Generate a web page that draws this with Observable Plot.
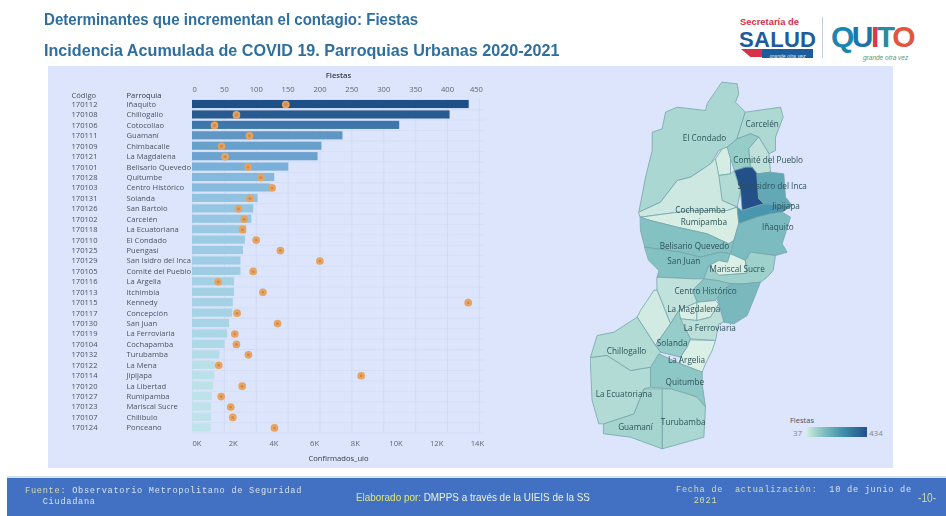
<!DOCTYPE html>
<html><head><meta charset="utf-8">
<script src="https://cdn.jsdelivr.net/npm/d3@7"></script>
<script src="https://cdn.jsdelivr.net/npm/@observablehq/plot@0.6"></script>
<style>
html,body{margin:0;padding:0;background:#fff;}
#page{position:relative;width:946px;height:516px;overflow:hidden;background:#fff;font-family:"Liberation Sans",sans-serif;}
.abs{position:absolute;white-space:nowrap;}
.abs svg{display:block;background:transparent;}
.title{color:#2f6f9f;font-weight:700;font-size:17px;line-height:20px;transform-origin:left top;filter:blur(0.3px);}
#panel{left:48px;top:66px;width:845px;height:402px;background:#dce5fc;}
#footer{left:7px;top:478px;width:939px;height:38px;background:#4271c4;}
#footline{left:7px;top:476px;width:939px;height:2px;background:#cfe3f3;}
.mono{font-family:"Liberation Mono",monospace;font-size:8.6px;letter-spacing:.74px;color:#d6e3ee;line-height:9.7px;white-space:pre;filter:blur(0.35px);}
.chart{filter:blur(0.35px);}
</style></head><body>
<div id="page">
<div class="abs title" style="left:44px;top:10px;transform:scaleX(.886)">Determinantes que incrementan el contagio: Fiestas</div>
<div class="abs title" style="left:44px;top:41px;transform:scaleX(.95)">Incidencia Acumulada de COVID 19. Parroquias Urbanas 2020-2021</div>

<div class="abs" style="left:740px;top:16.5px;font-size:9.4px;line-height:10px;font-weight:700;color:#d6304a">Secretaría de</div>
<div class="abs" style="left:739px;top:30.5px;font-size:22px;line-height:18px;font-weight:700;color:#1d5c9c;letter-spacing:.3px">SALUD</div>
<div class="abs" style="left:741px;top:49px;width:21px;height:8px;background:#d6304a;clip-path:polygon(0 0,100% 0,100% 100%,45% 100%)"></div>
<div class="abs" style="left:762px;top:49px;width:51px;height:9px;background:#1d5c9c"></div>
<div class="abs" style="left:762px;top:52.5px;width:51px;color:#dfe9f3;font-size:5.2px;font-style:italic;text-align:center;line-height:6px">grande otra vez</div>
<div class="abs" style="left:822px;top:17px;width:1px;height:41px;background:#c5ced6"></div>
<div class="abs" style="left:831px;top:22px;font-size:30px;font-weight:700;letter-spacing:-2.5px;line-height:29px"><span style="color:#1c86b0">Q</span><span style="color:#1d74ad">U</span><span style="color:#d9374a">I</span><span style="color:#2d8a9b">T</span><span style="color:#e2563f">O</span></div>
<div class="abs" style="left:863px;top:53.8px;font-size:6.5px;line-height:7px;font-style:italic;color:#5b9a6e">grande otra vez</div>

<div class="abs" id="panel"></div>
<div class="abs chart" id="bars" style="left:48px;top:66px"></div>
<div class="abs chart" id="dots" style="left:48px;top:66px"></div>
<div class="abs chart" id="map" style="left:590px;top:70px"></div>

<div class="abs" style="left:790px;top:415px;font:7.5px 'Open Sans';color:#41505e">Fiestas</div>
<div class="abs" style="left:793px;top:427px;font:8px 'Open Sans';color:#7b8794">37</div>
<div class="abs" id="ramp" style="left:805px;top:427px;width:62px;height:10px"></div>
<div class="abs" style="left:869px;top:427px;font:8px 'Open Sans';color:#7b8794">434</div>

<div class="abs" id="footline"></div>
<div class="abs" id="footer"></div>
<div class="abs mono" style="left:25px;top:487px"><span style="color:#d6dcb0">Fuente:</span> Observatorio Metropolitano de Seguridad</div>
<div class="abs mono" style="left:42.7px;top:497.5px">Ciudadana</div>
<div class="abs" style="left:356px;top:491px;font-size:11px;color:#e4e76a;transform:scaleX(.9);transform-origin:left top">Elaborado por: <span style="color:#eef2d8">DMPPS a través de la UIEIS de la SS</span></div>
<div class="abs mono" style="left:676px;top:486px;color:#d6dcb0">Fecha de  actualización:  <span style="color:#d6e3ee">10 de junio de</span></div>
<div class="abs mono" style="left:693.7px;top:497px;color:#d6dcb0">2021</div>
<div class="abs" style="left:918px;top:491px;font-size:12px;color:#cdd8a8;transform:scaleX(.85);transform-origin:left top">-10-</div>
</div>
<script>
// ---- bar chart data ----
const codigos = ["170112","170108","170106","170111","170109","170121","170101","170128","170103","170131","170126","170102","170118","170110","170125","170129","170105","170116","170113","170115","170117","170130","170119","170104","170132","170122","170114","170120","170127","170123","170107","170124"];
const parroquias = ["Iñaquito","Chillogallo","Cotocollao","Guamaní","Chimbacalle","La Magdalena","Belisario Quevedo","Quitumbe","Centro Histórico","Solanda","San Bartolo","Carcelén","La Ecuatoriana","El Condado","Puengasí","San Isidro del Inca","Comité del Pueblo","La Argelia","Itchimbía","Kennedy","Concepción","San Juan","La Ferroviaria","Cochapamba","Turubamba","La Mena","Jipijapa","La Libertad","Rumipamba","Mariscal Sucre","Chilibulo","Ponceano"];
const fiestas = [434,404,325,236,203,197,151,129,122,103,96,93,85,83,80,76,76,66,66,64,63,58,55,51,43,36,35,33,31,30,30,29];
const confirmados = [4585,2160,1080,2800,1425,1600,2730,3360,3910,2820,2260,2540,2460,3130,4320,6260,2980,1260,3460,13550,2190,4180,2080,2160,2750,1290,8290,2440,1410,1880,1980,4030];
const fiestasTicks = [0,50,100,150,200,250,300,350,400,450];
const confTicks = [0,2000,4000,6000,8000,10000,12000,14000];
const barColors = ["#bfe3ea","#a6d3e5","#8dc0e0","#74acd8","#5f96c2","#3d76a8","#1e4f85"];
const barStops = [29,60,110,160,236,325,434];

// ---- map data (traced outlines, in map units) ----
const mapNames = ["El Condado","Carcelén","Comité del Pueblo","Ponceano","Kennedy","Concepción","Cochapamba","Rumipamba","San Isidro del Inca","Kennedy Este","Jipijapa","Iñaquito","Belisario Quevedo","San Juan","Mariscal Sucre","Itchimbía","Puengasí","Centro Histórico","La Libertad","Chilibulo","La Magdalena","Chimbacalle","La Ferroviaria","Solanda","La Argelia","Quitumbe","Turubamba","Guamaní","La Ecuatoriana","Chillogallo"];
const mapValues = [97,92,120,72,45,88,55,42,434,215,262,165,150,150,40,112,172,140,70,50,40,42,76,122,40,132,97,102,86,86];
const mapRings = [
[[395,35],[440,40],[445,70],[435,95],[465,125],[440,205],[410,230],[385,240],[360,280],[300,320],[260,330],[210,395],[145,425],[165,320],[185,240],[185,185],[215,175],[225,125],[260,110],[345,120],[350,100]],
[[465,125],[570,110],[578,140],[555,200],[555,240],[535,250],[530,240],[505,200],[480,190],[440,205]],
[[410,230],[440,205],[480,190],[505,200],[475,235],[480,290],[465,290],[432,300],[420,265]],
[[505,200],[530,240],[535,250],[540,305],[500,310],[485,290],[480,290],[475,235]],
[[375,265],[395,235],[410,230],[420,265],[420,310],[385,315]],
[[385,315],[420,310],[432,300],[450,360],[440,410],[395,390]],
[[145,425],[210,395],[260,330],[300,320],[360,280],[375,265],[385,315],[395,390],[440,410],[410,420],[300,420],[150,440]],
[[150,440],[300,420],[410,420],[440,410],[445,460],[430,510],[415,520],[350,490],[260,470],[180,450]],
[[432,300],[465,290],[485,290],[500,310],[505,385],[520,400],[455,420],[450,360]],
[[500,310],[540,305],[580,310],[585,380],[605,405],[520,400],[505,385]],
[[455,420],[520,400],[605,405],[575,425],[540,430],[500,440],[445,460],[440,410]],
[[445,460],[500,440],[540,430],[575,425],[600,440],[575,520],[590,545],[555,555],[480,545],[465,570],[420,550],[430,510]],
[[150,440],[180,450],[260,470],[350,490],[415,520],[430,510],[420,550],[390,545],[330,560],[270,545],[163,530],[150,480]],
[[163,530],[270,545],[330,560],[390,545],[420,550],[410,575],[385,570],[355,585],[340,625],[310,625],[200,620],[205,600],[175,570]],
[[420,550],[465,570],[468,608],[385,615],[355,585],[385,570],[410,575]],
[[465,570],[480,545],[555,555],[548,600],[530,620],[510,635],[460,640],[420,640],[380,630],[340,625],[355,585],[385,615],[468,608]],
[[380,680],[420,640],[460,640],[510,635],[470,735],[430,760],[400,755],[385,700]],
[[310,655],[340,625],[380,630],[420,640],[380,680],[375,690],[320,695],[310,670]],
[[200,620],[310,625],[340,625],[310,655],[310,670],[320,695],[265,720],[240,760],[200,660]],
[[200,660],[240,760],[195,825],[140,740],[150,720],[190,660]],
[[265,720],[320,695],[320,750],[270,745]],
[[320,695],[375,690],[385,700],[360,740],[320,750]],
[[270,745],[320,750],[360,740],[385,700],[400,755],[385,760],[375,810],[300,805]],
[[240,760],[265,720],[270,745],[300,805],[290,830],[270,860],[210,845],[195,825]],
[[300,808],[375,810],[365,840],[345,880],[335,905],[270,880],[270,860],[290,830]],
[[205,850],[270,880],[335,905],[335,940],[345,1010],[320,980],[290,970],[240,955],[180,950],[180,890]],
[[215,955],[240,955],[290,970],[320,980],[345,1010],[340,1100],[215,1135],[215,1040]],
[[40,1060],[130,1030],[160,955],[215,955],[215,1135],[120,1100],[40,1090]],
[[0,860],[50,855],[120,900],[180,890],[180,950],[160,955],[130,1030],[40,1060],[25,1060],[5,990]],
[[0,860],[20,795],[70,785],[140,740],[195,825],[210,845],[205,850],[180,890],[120,900],[50,855]]
];
const mapLabelNames = ["El Condado","Carcelén","Comité del Pueblo","San Isidro del Inca","Jipijapa","Iñaquito","Cochapamba","Rumipamba","Belisario Quevedo","San Juan","Mariscal Sucre","Centro Histórico","La Magdalena","La Ferroviaria","Solanda","La Argelia","Quitumbe","La Ecuatoriana","Chillogallo","Guamaní","Turubamba"];
const mapLabelX = [342,515,533,545,587,562,330,340,312,280,440,345,310,358,245,288,283,100,108,135,278];
const mapLabelY = [205,163,270,347,408,470,420,457,528,573,597,663,717,775,820,870,935,972,843,1072,1056];
const rampDomain = [37,130,280,434];
const rampRange = ["#dcf0e6","#8fc9c6","#3f8fab","#24508a"];

// ---- scaffolding shared by the two overlaid bar plots ----
const W = 440, H = 402, ML = 144, MR = 4, MT = 32.8, MB = 35.4;
const rows = parroquias.map((p,i)=>({p, c:codigos[i], f:fiestas[i], k:confirmados[i]}));
const font = "'Open Sans'";
const yOpt = {domain:parroquias, paddingInner:0.22, paddingOuter:0.11, align:0.5, round:false};
const ink = "#4a5560", ink2 = "#333d47", ink3 = "#5d6975";

const barPlot = Plot.plot({
  width:W, height:H, marginLeft:ML, marginRight:MR, marginTop:MT, marginBottom:MB,
  style:{background:"transparent", fontFamily:font, fontSize:"7.6px", color:ink},
  x:{domain:[0,458], axis:null},
  y:{...yOpt, axis:null},
  color:{type:"linear", domain:barStops, range:barColors},
  marks:[
    Plot.ruleX(fiestasTicks,{stroke:"#cbd6f2", strokeWidth:0.7}),
    Plot.tickY(parroquias,{y:d=>d, stroke:"#cfdaf4", strokeWidth:0.6, dy:5.2}),
    Plot.text(rows,{y:"p", text:"c", frameAnchor:"left", textAnchor:"start", dx:-121, fill:ink}),
    Plot.text(rows,{y:"p", text:"p", frameAnchor:"left", textAnchor:"start", dx:-66, fill:ink}),
    Plot.barX(rows,{x:"f", y:"p", fill:"f"}),
    Plot.text(["Código"],{text:d=>d, frameAnchor:"top-left", textAnchor:"start", dx:-121, dy:-7, fill:ink}),
    Plot.text(["Parroquia"],{text:d=>d, frameAnchor:"top-left", textAnchor:"start", dx:-66, dy:-7, fill:ink2}),
    Plot.text(["Fiestas"],{text:d=>d, frameAnchor:"top", dy:-27, fill:ink2, fontWeight:600}),
    Plot.text(fiestasTicks.slice(0,1),{x:d=>d, text:d=>d, frameAnchor:"top", dy:-13, fill:ink3, textAnchor:"start"}),
    Plot.text(fiestasTicks.slice(1,-1),{x:d=>d, text:d=>d, frameAnchor:"top", dy:-13, fill:ink3, textAnchor:"middle"}),
    Plot.text(fiestasTicks.slice(-1),{x:d=>d, text:d=>d, frameAnchor:"top", dx:-3, dy:-13, fill:ink3, textAnchor:"middle"})
  ]
});
document.getElementById("bars").appendChild(barPlot);

const dotPlot = Plot.plot({
  width:W, height:H, marginLeft:ML, marginRight:MR, marginTop:MT, marginBottom:MB,
  style:{background:"transparent", fontFamily:font, fontSize:"7.6px", color:ink},
  x:{domain:[0,14350], axis:null},
  y:{...yOpt, axis:null},
  marks:[
    Plot.dot(rows,{x:"k", y:"p", r:3.1, fill:"#e9a35c", stroke:"#e9a35c", fillOpacity:0.9}),
    Plot.dot(rows,{x:"k", y:"p", r:1.5, fill:"#d08a4e"}),
    Plot.text(confTicks.slice(0,1),{x:d=>d, text:d=>(d/1000)+"K", frameAnchor:"bottom", dy:12.5, fill:ink3, textAnchor:"start"}),
    Plot.text(confTicks.slice(1),{x:d=>d, text:d=>(d/1000)+"K", frameAnchor:"bottom", dy:12.5, fill:ink3}),
    Plot.text(["Confirmados_uio"],{text:d=>d, frameAnchor:"bottom", dy:27.5, fill:ink2})
  ]
});
document.getElementById("dots").appendChild(dotPlot);

// ---- map ----
const features = mapRings.map((r,i)=>({type:"Feature", properties:{name:mapNames[i], v:mapValues[i]},
  geometry:{type:"Polygon", coordinates:[[...r, r[0]]]}}));
const labels = mapLabelNames.map((n,i)=>({n, x:mapLabelX[i], y:mapLabelY[i]}));
const mapPlot = Plot.plot({
  width:310, height:395, margin:0,
  style:{background:"transparent", fontFamily:font},
  projection:d3.geoIdentity().scale(1/3),
  color:{type:"linear", domain:rampDomain, range:rampRange},
  marks:[
    Plot.geo(features,{fill:d=>d.properties.v, stroke:"#74a5ab", strokeWidth:0.8}),
    Plot.text(labels,{x:"x", y:"y", text:"n", fontSize:8.2, fill:"#2d5359"})
  ]
});
document.getElementById("map").appendChild(mapPlot);

// legend ramp reads the same stops as the map's colour scale
const mapColor = mapPlot.scale("color");
const stopsCss = d3.range(0,1.001,0.1).map(t=>d3.color(mapColor.apply(37+t*397)).formatHex());
document.getElementById("ramp").style.background = "linear-gradient(to right,"+stopsCss.join(",")+")";
</script>
</body></html>
